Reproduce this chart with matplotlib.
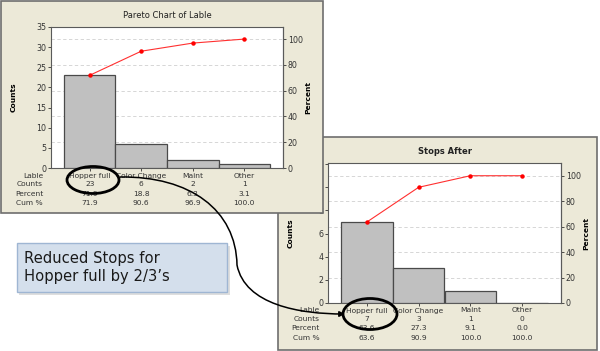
import matplotlib.pyplot as plt
import numpy as np
from matplotlib.patches import Rectangle, Ellipse, FancyArrowPatch
from matplotlib.path import Path

# data
labels = ['Hopper full', 'Color Change', 'Maint', 'Other']
before_counts = [23, 6, 2, 1]
before_pct = ['71.9', '18.8', '6.3', '3.1']
before_cum = [71.9, 90.6, 96.9, 100.0]
after_counts = [7, 3, 1, 0]
after_pct = ['63.6', '27.3', '9.1', '0.0']
after_cum = [63.6, 90.9, 100.0, 100.0]
row_names = ['Lable', 'Counts', 'Percent', 'Cum %']

W, H = 600, 351
fig = plt.figure(figsize=(6, 3.51), dpi=100)
fig.patch.set_facecolor('white')

BEIGE = '#ece9d8'
EDGE = '#6e6e6e'
FS = 5.4


def fx(x):
    return x / W


def fy(y):
    return 1 - y / H


def frame(x0, y0, x1, y1, z):
    fig.patches.append(Rectangle((fx(x0), fy(y1)), fx(x1 - x0), (y1 - y0) / H,
                                 transform=fig.transFigure, facecolor=BEIGE,
                                 edgecolor=EDGE, lw=1.2, zorder=z))


def pareto(box, counts, pct, cum, ymax, yticks, title, bold, z):
    x0, y0, x1, y1 = box
    ax = fig.add_axes([fx(x0), fy(y1), fx(x1 - x0), (y1 - y0) / H])
    ax.set_zorder(z)
    total = sum(counts)
    pos = np.arange(len(counts))
    ax.bar(pos, counts, width=1.0, color='#c0c0c0', edgecolor='#4a4a4a', lw=0.9, zorder=3)
    for p in [20, 40, 60, 80, 100]:
        ax.axhline(p * total / 100, color='#d0d0d0', lw=0.6, ls=(0, (4, 3)), zorder=1)
    ax.plot(pos, np.array(cum) * total / 100, color='#ff3030', lw=0.8,
            marker='o', ms=2.2, mfc='#ff0000', mec='#ff0000', zorder=4)
    ax.set_xlim(-0.75, 3.75)
    ax.set_ylim(0, ymax)
    ax.set_yticks(yticks)
    ax.set_xticks(pos)
    ax.set_xticklabels([])
    ax.tick_params(axis='both', length=2, width=0.6, labelsize=FS + 0.3, pad=1.5, colors='#333333')
    for s in ax.spines.values():
        s.set_color('#5a5a5a')
        s.set_linewidth(0.8)
    sec = ax.secondary_yaxis('right', functions=(lambda c: c / total * 100,
                                                 lambda p: p * total / 100))
    sec.set_yticks([0, 20, 40, 60, 80, 100])
    sec.tick_params(length=2, width=0.6, labelsize=FS + 0.3, pad=1.5, colors='#333333')
    sec.spines['right'].set_color('#5a5a5a')
    hpx = y1 - y0
    wpx = x1 - x0
    ax.text(0.5, (hpx + 11) / hpx, title, transform=ax.transAxes, ha='center', va='center',
            fontsize=6, fontweight='bold' if bold else 'normal', color='#222222')
    ax.text(-37 / wpx, 0.5, 'Counts', transform=ax.transAxes, rotation=90, ha='center',
            va='center', fontsize=FS, fontweight='bold')
    ax.text(1 + 25 / wpx, 0.5, 'Percent', transform=ax.transAxes, rotation=90, ha='center',
            va='center', fontsize=FS, fontweight='bold')
    offs = [7.5, 16, 25.5, 35]
    cols = [labels, [str(c) for c in counts], pct, ['%.1f' % c for c in cum]]
    for off, name, vals in zip(offs, row_names, cols):
        yy = -off / hpx
        ax.text(-8 / wpx, yy, name, transform=ax.transAxes, ha='right', va='center',
                fontsize=FS, color='#333333')
        for i, v in enumerate(vals):
            ax.text(i, yy, v, transform=ax.get_xaxis_transform(), ha='center', va='center',
                    fontsize=FS, color='#333333')
    return ax


# panel 2 (behind)
frame(278, 137, 597, 350, 1)
pareto((328, 163, 561, 303), after_counts, after_pct, after_cum, 12.1,
       [0, 2, 4, 6, 8, 10, 12], 'Stops After', True, 2)

# panel 1 (front)
frame(1, 1, 323, 213, 3)
pareto((51, 27, 283, 168), before_counts, before_pct, before_cum, 35,
       [0, 5, 10, 15, 20, 25, 30, 35], 'Pareto Chart of Lable', False, 4)

# ellipses
for cx, cy, w, h in [(93, 180, 52, 27), (370, 314, 54, 31)]:
    fig.patches.append(Ellipse((fx(cx), fy(cy)), w / W, h / H, transform=fig.transFigure,
                               fill=False, edgecolor='black', lw=2, zorder=10))

# curved arrow
verts = [(120, 177), (190, 176), (236, 210), (237, 265),
         (245, 305), (300, 314), (345, 314)]
codes = [Path.MOVETO, Path.CURVE4, Path.CURVE4, Path.CURVE4,
         Path.CURVE4, Path.CURVE4, Path.CURVE4]
path = Path([(fx(x), fy(y)) for x, y in verts], codes)
arr = FancyArrowPatch(path=path, arrowstyle='-|>', mutation_scale=8, lw=1.1,
                      color='black', transform=fig.transFigure, zorder=10)
fig.patches.append(arr)

# text box
fig.patches.append(Rectangle((fx(19), fy(295)), fx(211), 49 / H, transform=fig.transFigure,
                             facecolor='#c8c8c8', edgecolor='none', alpha=0.6, zorder=9))
fig.patches.append(Rectangle((fx(17), fy(292)), fx(210), 49 / H, transform=fig.transFigure,
                             facecolor='#d4dfec', edgecolor='#9fb6d3', lw=1, zorder=9.5))
fig.text(fx(24), fy(267.5), 'Reduced Stops for\nHopper full by 2/3\u2019s', fontsize=10.6,
         ha='left', va='center', color='#1a1a1a', linespacing=1.3, zorder=11)

fig.savefig('out.png', dpi=100)
